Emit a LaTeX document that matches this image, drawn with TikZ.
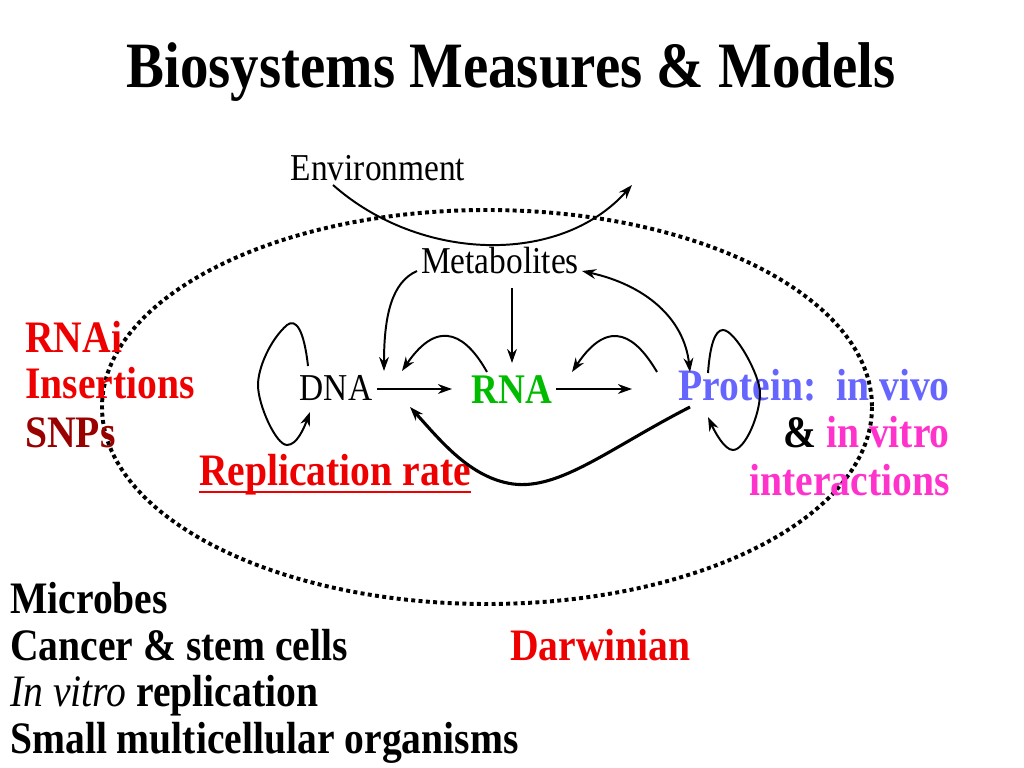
\documentclass[tikz,border=0pt]{standalone}
\usepackage{fontspec}
\setmainfont[FakeStretch=0.88]{Liberation Serif}
\usepackage{xcolor}
\usepackage{tikz}
\usetikzlibrary{arrows.meta}

\definecolor{redtxt}{HTML}{EE0000}
\definecolor{darkredtxt}{HTML}{990000}
\definecolor{greentxt}{HTML}{00BB00}
\definecolor{bluetxt}{HTML}{6666FF}
\definecolor{pinktxt}{HTML}{FF33CC}

\newcommand{\ulthick}[1]{\setbox0\hbox{#1}\rlap{\rule[-6pt]{\wd0}{1.9pt}}\box0}

\tikzset{
  lbl/.style={inner sep=0pt, font=\fontsize{32}{38}\selectfont\bfseries},
  plain/.style={inner sep=0pt, font=\fontsize{27}{32}\selectfont},
  arr/.style={-{Stealth[length=10pt,width=7pt]}, line width=1.4pt},
}

\begin{document}
\begin{tikzpicture}[x=0.025cm, y=-0.025cm]
        \path[use as bounding box] (0,0) rectangle (1024,768);

        % title
        \node[inner sep=0pt, anchor=base, font=\fontsize{46}{52}\selectfont\bfseries] (title) at (511,88) {Biosystems Measures \& Models};

        % cell boundary
        \draw[line width=2.8pt, dash pattern=on 2.8pt off 2.4pt] (487,407) ellipse (385 and 197);

        % inner labels
        \node[plain, anchor=base] (env) at (378,180) {Environment};
        \node[plain, anchor=base] (met) at (500,273) {Metabolites};
        \node[plain, anchor=base] (dna) at (336,400) {DNA};
        \node[inner sep=0pt, anchor=base, text=greentxt, font=\fontsize{30}{36}\selectfont\bfseries] (rna) at (512,403) {RNA};
        \node[lbl, anchor=base east, text=bluetxt] (prot) at (950,400) {Protein:\ \ in vivo};
        \node[lbl, anchor=base east] (vitro) at (950,447) {\& \textcolor{pinktxt}{in vitro}};
        \node[lbl, anchor=base east, text=pinktxt] (inter) at (950,495) {interactions};
        \node[lbl, anchor=base, text=redtxt] (rep) at (335,485) {\ulthick{Replication rate}};

        % left list
        \node[lbl, anchor=base west, text=redtxt] (rnai) at (25,352) {RNAi};
        \node[lbl, anchor=base west, text=redtxt] (ins) at (25,398) {Insertions};
        \node[lbl, anchor=base west, text=darkredtxt] (snp) at (25,447) {SNPs};

        % bottom list
        \node[lbl, anchor=base west] (mic) at (10,613) {Microbes};
        \node[lbl, anchor=base west] (can) at (10,660) {Cancer \& stem cells};
        \node[lbl, anchor=base west] (ivr) at (10,706) {\textit{\mdseries In vitro} replication};
        \node[lbl, anchor=base west] (small) at (10,753) {Small multicellular organisms};
        \node[lbl, anchor=base west, text=redtxt] (darw) at (510,660) {Darwinian};

        % arrow ends
        \coordinate (Ea) at (333,185);
        \coordinate (Eb) at (632,185);
        \coordinate (Ml) at (417,271);
        \coordinate (Mr) at (582,271);
        \coordinate (Md) at (512,288);
        \coordinate (Dr) at (377,389);
        \coordinate (Du) at (384,371);
        \coordinate (Dur) at (402,371);
        \coordinate (Ddr) at (410,407);
        \coordinate (Dtl) at (308,366);
        \coordinate (Dbl) at (310,412);
        \coordinate (Rl) at (452,389);
        \coordinate (Rr) at (556,389);
        \coordinate (Ru) at (512,363);
        \coordinate (Rul) at (487,372);
        \coordinate (Rur) at (572,372);
        \coordinate (Pl) at (632,389);
        \coordinate (Pu) at (690,372);
        \coordinate (Pul) at (657,372);
        \coordinate (Pdl) at (690,407);
        \coordinate (Ptl) at (708,373);
        \coordinate (Pbl) at (708,417);

        \draw[arr] (Ea) .. controls (420,262) and (560,266) .. (Eb);
        \draw[arr] (Ml) .. controls (392,282) and (384,315) .. (Du);
        \draw[arr] (Md) -- (Ru);
        \draw[arr, {Stealth[length=10pt,width=7pt]}-{Stealth[length=10pt,width=7pt]}] (Mr) .. controls (645,285) and (684,318) .. (Pu);
        \draw[arr] (Dr) -- (Rl);
        \draw[arr] (Rr) -- (Pl);
        \draw[arr] (Rul) .. controls (468,338) and (440,315) .. (Dur);
        \draw[arr] (Pul) .. controls (637,338) and (610,315) .. (Rur);
        \draw[arr, line width=2.2pt] (Pdl) .. controls (610,448) and (560,490) .. (513,484)
            .. controls (470,478) and (440,440) .. (Ddr);
        \draw[arr] (Dtl) .. controls (304,330) and (296,318) .. (287,325)
            .. controls (270,340) and (258,368) .. (258,385)
            .. controls (258,405) and (276,445) .. (287,445)
            .. controls (297,445) and (304,428) .. (Dbl);
        \draw[arr] (Ptl) .. controls (710,345) and (715,330) .. (723,330)
            .. controls (735,330) and (760,375) .. (760,393)
            .. controls (760,415) and (745,450) .. (733,450)
            .. controls (724,450) and (714,430) .. (Pbl);
    \end{tikzpicture}
\end{document}
